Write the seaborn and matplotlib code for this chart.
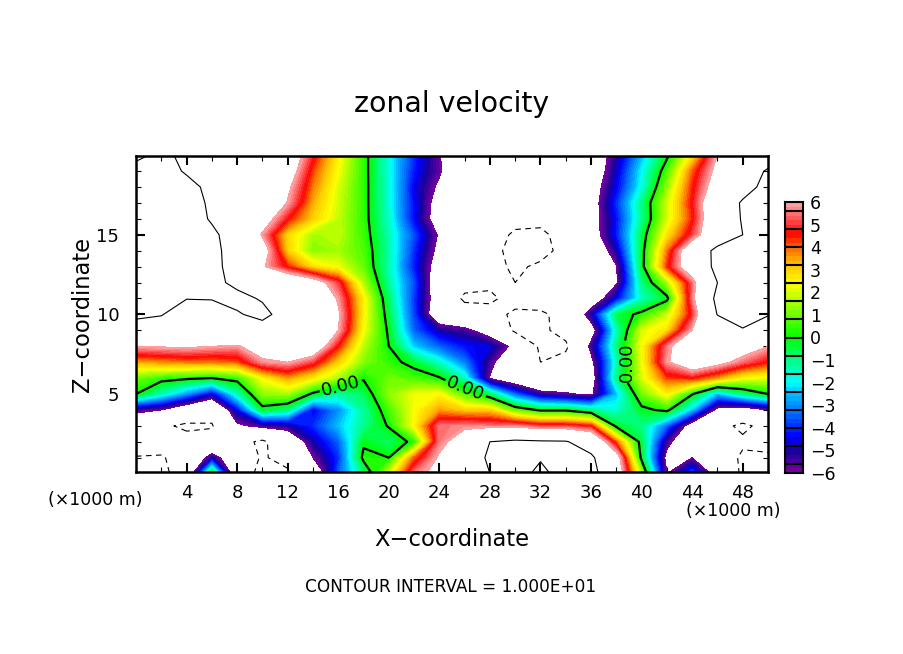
import numpy as np
import matplotlib
matplotlib.use("Agg")
import matplotlib.pyplot as plt
from matplotlib.colors import LinearSegmentedColormap
from matplotlib.ticker import MultipleLocator
import seaborn as sns

W, H = 904, 654

# x in km, one row of zonal velocity per height
x_km = [0, 2, 4, 6, 8, 10, 12, 14, 16, 18, 20, 22, 24, 26, 28, 30, 32, 34, 36, 38, 40, 42, 44, 46, 48, 50]
z_km = list(range(0, 21))

u_z20 = [9.5, 10.5, 9.5, 9, 8.5, 8, 7.5, 4.8, 2.5, 0.4, -1.8, -4, -5.9, -8, -8, -9, -9, -8, -7.5, -5.2, -2.6, -0.2, 2.6, 6, 8, 8.5]
u_z19 = [10.8, 10.8, 9.8, 9, 8.5, 8, 7, 4.2, 2.3, 0.4, -1.8, -4.2, -5.8, -8, -8, -9, -8.5, -8, -7.5, -4.8, -2, 0.6, 4, 6.5, 8.5, 10.3]
u_z18 = [11, 11, 10.6, 9.5, 8.5, 8, 6.3, 3.8, 2, 0.4, -1.7, -4.5, -6.3, -8, -8, -8.5, -8.5, -8, -7, -4.5, -1.8, 1.3, 4.4, 7, 9, 10.8]
u_z17 = [11, 11, 10.8, 9.7, 8.5, 7.8, 5.9, 3.4, 1.9, 0.4, -1.7, -4.4, -6.8, -8, -8.5, -8.5, -8.5, -8, -6.9, -4, -1, 1.9, 4.6, 8, 10.3, 11]
u_z16 = [11, 11, 11, 9.8, 8.5, 7, 4.6, 3, 1.8, 0.4, -1.6, -4.4, -7, -8, -8.5, -9, -9, -8, -6.9, -4.3, -1.1, 1.9, 4.4, 8, 10.2, 11]
u_z15 = [11, 11, 11, 10.4, 9, 5.8, 2.9, 1.5, 1.8, 0.5, -1.4, -3.7, -6.2, -8, -8.5, -10.5, -10.8, -8.5, -7, -4.2, -0.6, 2.7, 5, 8, 10, 11]
u_z14 = [11, 11, 11, 10.5, 9.2, 7, 3, 1.2, 1.5, 0.7, -1.3, -4, -6.5, -8, -9, -11, -11, -9, -8, -5, -0.4, 3.8, 7.7, 10.8, 11, 11]
u_z13 = [11, 11, 11, 10.5, 9.3, 6.2, 4.4, 2.8, 2.2, 0.9, -1.4, -4.2, -7, -8, -9, -10.5, -9.5, -9, -8, -6.1, -0.4, 4.3, 7.5, 10.8, 11, 11]
u_z12 = [11, 11, 11, 10.6, 9.5, 9, 8, 7, 5, 1.6, -1.2, -3.7, -7.5, -9, -9.5, -10, -9, -8.5, -8, -6.2, -1, 1.5, 5.3, 10, 11, 11]
u_z11 = [11, 11, 10.05, 10.1, 10.6, 9.8, 9, 8, 5.8, 2.5, -0.8, -3.9, -7.2, -10.5, -10.5, -9, -8.5, -8, -7.5, -4.5, -1.5, -0.3, 5.5, 10.8, 11, 11]
u_z10 = [10.3, 10.1, 9, 9, 9.8, 10.6, 9, 8, 6.2, 2.5, -0.5, -3.8, -7.6, -8.5, -9, -10.5, -10.5, -9, -5, -0.6, 0.3, 1.8, 4.8, 10.1, 10.6, 10.1]
u_z9 = [9.3, 9, 8.5, 8.5, 8.5, 9, 9, 8, 6, 2.3, -0.2, -3.5, -5, -5.5, -7, -10.5, -10.6, -9, -7, -1.5, 2, 2.8, 6, 8, 9.9, 9]
u_z8 = [6, 6.1, 6.2, 6, 5.8, 7, 8, 7.5, 4.5, 1.7, 0, -2.4, -3.5, -4.3, -4.6, -6.5, -10.5, -10.5, -5.5, -1, 2.3, 5.5, 8, 7.7, 7, 6]
u_z7 = [3.4, 3.6, 3.8, 3.8, 4, 5.7, 6, 5, 3, 1.2, 0.4, -0.4, -1.6, -3.2, -5.5, -8, -10, -9, -6.5, -1.5, 2.2, 5.8, 7.5, 6.6, 5.4, 4.5]
u_z6 = [1, 0.4, 0.2, 0, 0.4, 2.4, 3.5, 2.6, 1.5, 0.1, 1, 0.6, 0.1, -1.5, -6.1, -7.5, -9, -8, -7, -1, 2, 4.2, 4.5, 3.5, 2.3, 2.1]
u_z5 = [0, -1.5, -3, -4.7, -1.5, 1.3, 1.5, -0.2, -1.3, -0.7, 1.3, 2.2, 2.4, 0.7, -0.8, -3.5, -5.3, -5.8, -6.3, -2.5, 1, 2.5, 0.1, -2.6, -1, 0]
u_z4 = [-5.5, -6, -7.5, -9, -4.5, -0.4, -1, -4.5, -3, -1.2, 0.6, 2.3, 3.5, 3, 3, 0.8, -0.2, -0.2, -1, -1.7, -0.3, 0.3, -2.5, -6.5, -7, -6]
u_z3 = [-8, -9.5, -10.5, -10.2, -6.3, -5.5, -5.2, -4, -2.5, -1.1, 0.1, 2.4, 5.5, 5.7, 5.5, 5.6, 5, 5, 4.5, -0.3, -1, -3.5, -7, -9, -10.6, -9]
u_z2 = [-8, -9, -9, -9, -9, -10.5, -8, -5, -3.5, -0.2, -0.8, 0.3, 5.5, 7, 10, 10.5, 10.3, 10.2, 8.5, 4, -0.5, -5.5, -8, -9, -9.5, -9]
u_z1 = [-10.2, -10.2, -9, -5, -8, -10.3, -9, -6, -4, 0.3, 0, 4, 6.2, 8, 10.5, 11, 10.2, 11, 10.5, 7, -0.3, -6.5, -6, -8, -10.5, -10.5]
u_z0 = [-11, -11, -8, 0.2, -8, -11, -10.5, -8, -3.5, -1, 2, 5.5, 6.5, 8.5, 10, 11, 9.4, 11, 11, 7.5, 1.5, -6, -3.5, -7, -10.5, -11]

u_rows = [u_z0, u_z1, u_z2, u_z3, u_z4, u_z5, u_z6, u_z7, u_z8, u_z9, u_z10,
          u_z11, u_z12, u_z13, u_z14, u_z15, u_z16, u_z17, u_z18, u_z19, u_z20]

x_tick_km = [4, 8, 12, 16, 20, 24, 28, 32, 36, 40, 44, 48]
z_tick_km = [5, 10, 15]
bar_labels = ["6", "5", "4", "3", "2", "1", "0", "\u22121", "\u22122", "\u22123", "\u22124", "\u22125", "\u22126"]

sns.set_style("white")
plt.rcParams["font.family"] = ["DejaVu Sans"]

rainbow = LinearSegmentedColormap.from_list("rainbow_ncar", [
    (0.00, (0.45, 0.00, 0.62)),
    (0.07, (0.10, 0.00, 0.60)),
    (0.13, (0.00, 0.00, 1.00)),
    (0.21, (0.00, 0.40, 1.00)),
    (0.29, (0.00, 0.75, 1.00)),
    (0.33, (0.00, 1.00, 1.00)),
    (0.42, (0.00, 1.00, 0.50)),
    (0.50, (0.00, 1.00, 0.00)),
    (0.60, (0.50, 1.00, 0.00)),
    (0.70, (1.00, 1.00, 0.00)),
    (0.77, (1.00, 0.78, 0.00)),
    (0.83, (1.00, 0.45, 0.00)),
    (0.89, (1.00, 0.00, 0.00)),
    (0.95, (1.00, 0.35, 0.35)),
    (1.00, (1.00, 0.62, 0.62)),
], N=60)

fig = plt.figure(figsize=(W / 100, H / 100), dpi=100, facecolor="white")
ax = fig.add_axes([136 / W, 1 - 472 / H, 632 / W, 316 / H])

u = np.array(u_rows)
levels = np.arange(-6, 6.01, 0.2)
ax.contourf(x_km, z_km, u, levels=levels, cmap=rainbow, antialiased=False)
ax.contour(x_km, z_km, u, levels=[10], colors="black", linewidths=0.8, linestyles="solid")
ax.contour(x_km, z_km, u, levels=[-10], colors="black", linewidths=0.8, linestyles=[(0, (5, 4))])
zero = ax.contour(x_km, z_km, u, levels=[0], colors="black", linewidths=1.6)
zero_labels = ax.clabel(zero, fmt="%.2f", fontsize=13, inline=True, inline_spacing=2,
                        manual=[(16.2, 5.5), (26, 5.2), (38.8, 7)])
for lab in zero_labels:
    if abs(lab.get_rotation() - 270) < 30 or abs(lab.get_rotation() + 90) < 30:
        lab.set_rotation(90)

ax.set_xlim(0, 50)
ax.set_ylim(0.1, 19.95)
ax.set_xticks(x_tick_km)
ax.set_yticks(z_tick_km)
ax.xaxis.set_minor_locator(MultipleLocator(2))
ax.yaxis.set_minor_locator(MultipleLocator(1))
ax.tick_params(which="major", direction="in", length=6.5, width=1.5, left=True, bottom=True, top=True, right=True,
               labelsize=13, color="black", labelcolor="black")
ax.tick_params(which="minor", direction="in", length=3.5, width=0.8, left=True, bottom=True, top=True, right=True, color="black")
ax.tick_params(axis="x", which="major", pad=9)
ax.tick_params(axis="y", which="major", pad=12)
for side in ax.spines.values():
    side.set_linewidth(1.8)
    side.set_color("black")

# colour strip built with seaborn
bar_ax = fig.add_axes([785 / W, 1 - 473 / H, 18 / W, 271 / H])
strip = np.linspace(5.9, -5.9, 60).reshape(-1, 1)
sns.heatmap(strip, ax=bar_ax, cmap=rainbow, vmin=-6, vmax=6, cbar=False, xticklabels=False)
bar_ax.hlines(np.arange(2, 60, 4), 0, 1, colors="black", linewidth=1.5)
bar_ax.set_yticks(np.arange(0, 61, 5))
bar_ax.set_yticklabels(bar_labels, rotation=0, fontsize=12.5)
bar_ax.yaxis.tick_right()
bar_ax.tick_params(axis="y", length=0, pad=5, labelcolor="black")
for side in bar_ax.spines.values():
    side.set_visible(True)
    side.set_linewidth(1.5)
    side.set_color("black")


def put(px, py, s, **kw):
    fig.text(px / W, 1 - py / H, s, ha="center", va="center", color="black", **kw)


put(452, 104, "zonal velocity", fontsize=20.4)
put(452, 539, "X\u2212coordinate", fontsize=16.3)
put(83, 314, "Z\u2212coordinate", fontsize=16.3, rotation=90)
put(95, 500, "(\u00d71000 m)", fontsize=12.5)
put(733, 511, "(\u00d71000 m)", fontsize=12.5)
put(451, 587, "CONTOUR INTERVAL = 1.000E+01", fontsize=12.2)

fig.savefig("out.png", dpi=100, facecolor="white")
